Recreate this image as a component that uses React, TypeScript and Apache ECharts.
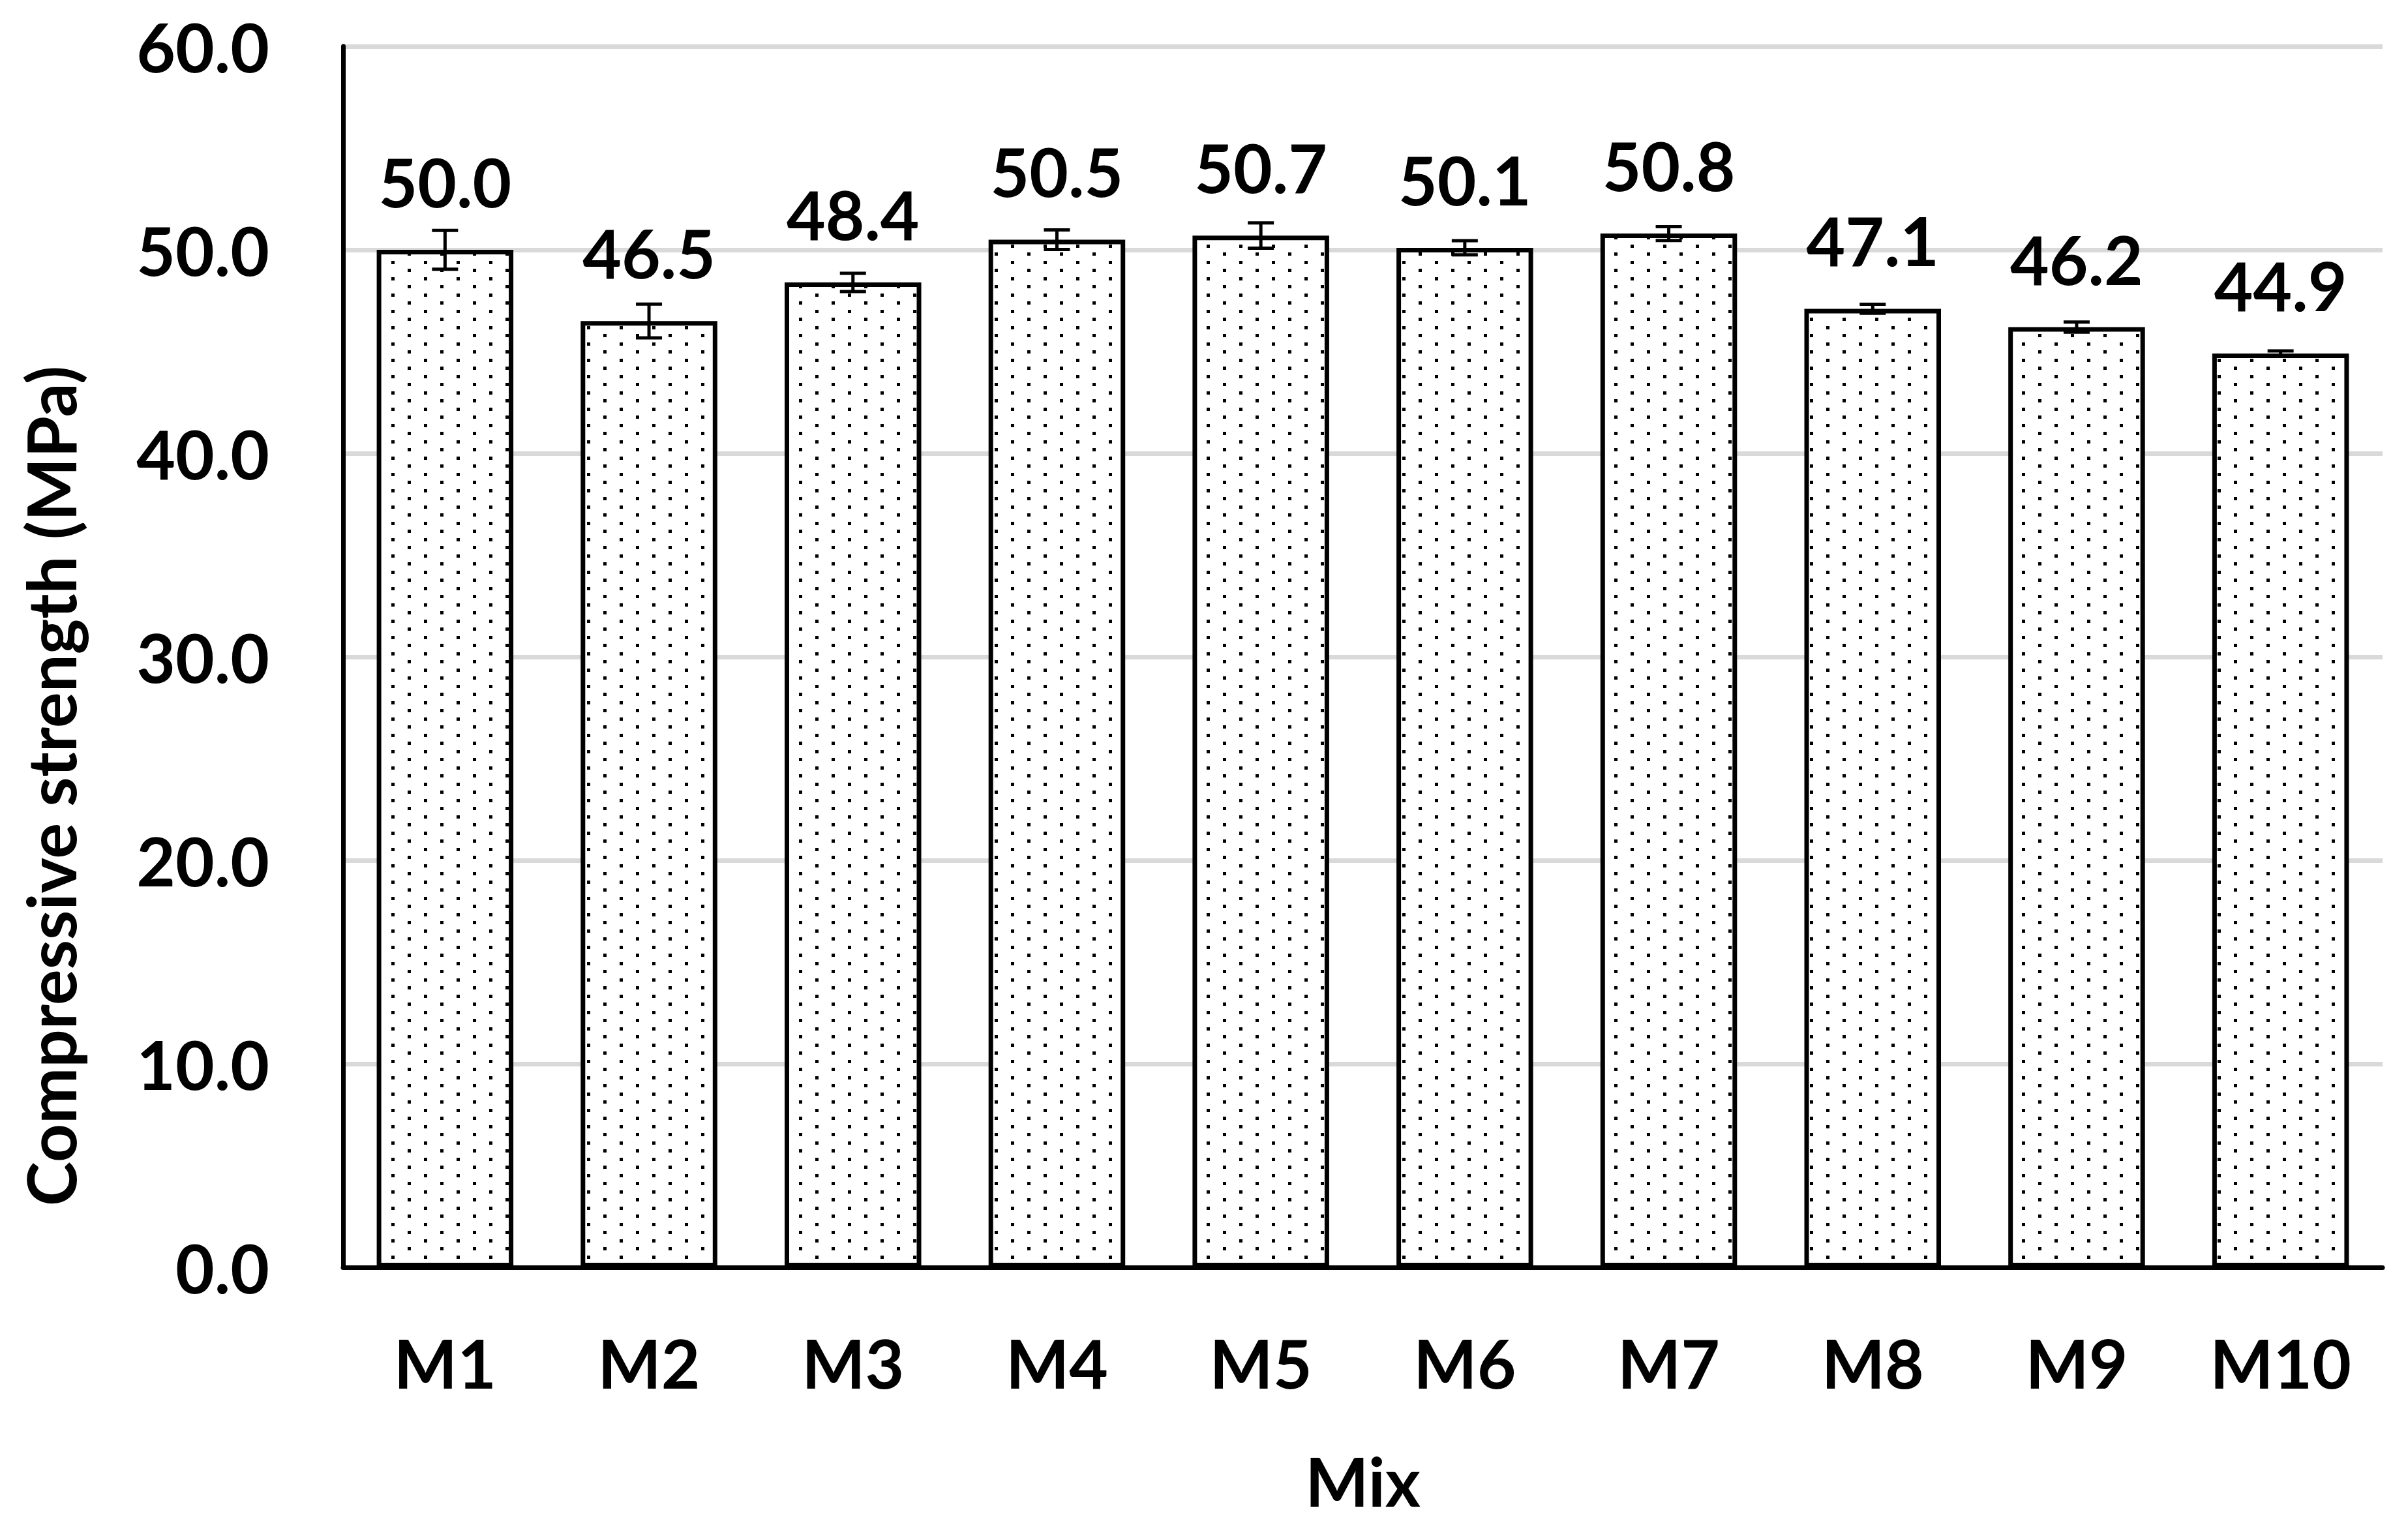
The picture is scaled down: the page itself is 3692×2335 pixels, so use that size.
import React, { useEffect, useRef } from 'react';
import * as echarts from 'echarts';

const mixes = ['M1', 'M2', 'M3', 'M4', 'M5', 'M6', 'M7', 'M8', 'M9', 'M10'];
const strength = [50.0, 46.5, 48.4, 50.5, 50.7, 50.1, 50.8, 47.1, 46.2, 44.9];
const strengthError = [0.95, 0.83, 0.45, 0.48, 0.62, 0.35, 0.34, 0.22, 0.25, 0.13];

const yMin = 0;
const yMax = 60;
const yStep = 10;

const FONT = 'Lato';
const FONT_SIZE = 103;

// dotted fill like the Excel "5%" pattern
const makeDots = () => {
	const c = document.createElement('canvas');
	c.width = 50;
	c.height = 25;
	const ctx = c.getContext('2d')!;
	ctx.fillStyle = '#ffffff';
	ctx.fillRect(0, 0, 50, 25);
	ctx.fillStyle = '#000000';
	ctx.fillRect(0, 0, 5, 5);
	ctx.fillRect(25, 12, 5, 5);
	return c;
};

const App: React.FC = () => {
	const chartRef = useRef<HTMLDivElement>(null);

	useEffect(() => {
		document.body.style.margin = '0';
		if (!chartRef.current) return;
		const chart = echarts.init(chartRef.current, undefined, { renderer: 'svg' });

		const errData = strength.map((v, i) => [i, v - strengthError[i], v + strengthError[i]]);

		const textStyle = {
			fontFamily: FONT,
			fontWeight: 'bold' as const,
			fontSize: FONT_SIZE,
			lineHeight: 120,
			color: '#000'
		};

		const option: echarts.EChartsOption = {
			animation: false,
			backgroundColor: '#ffffff',
			grid: { left: 526, top: 71, right: 39, bottom: 386, containLabel: false },
			xAxis: {
				type: 'category',
				data: mixes,
				name: 'Mix',
				nameLocation: 'middle',
				nameGap: 267,
				nameTextStyle: textStyle,
				axisLine: { lineStyle: { color: '#000', width: 7 } },
				axisTick: { show: false },
				axisLabel: { ...textStyle, margin: 86 },
				splitLine: { show: false }
			},
			yAxis: {
				type: 'value',
				min: yMin,
				max: yMax,
				interval: yStep,
				axisLine: { show: true, lineStyle: { color: '#000', width: 7 } },
				axisTick: { show: false },
				axisLabel: {
					...textStyle,
					margin: 113,
					formatter: (v: number) => v.toFixed(1)
				},
				splitLine: { lineStyle: { color: '#d9d9d9', width: 7 } }
			},
			graphic: [
				{
					type: 'text',
					x: 77,
					y: 1205,
					rotation: Math.PI / 2,
					style: {
						text: 'Compressive strength (MPa)',
						font: `bold ${FONT_SIZE}px ${FONT}`,
						fill: '#000',
						align: 'center',
						verticalAlign: 'middle'
					}
				}
			],
			series: [
				{
					name: 'Compressive strength',
					type: 'bar',
					data: strength,
					barCategoryGap: '33%',
					itemStyle: {
						color: { image: makeDots(), repeat: 'repeat', imageWidth: 50, imageHeight: 25 } as any,
						borderColor: '#000',
						borderWidth: 7
					},
					label: {
						show: true,
						position: 'top',
						distance: 45,
						...textStyle,
						formatter: (p: any) => Number(p.value).toFixed(1)
					}
				},
				{
					name: 'Error',
					type: 'custom',
					data: errData,
					z: 10,
					renderItem: (params: any, api: any) => {
						const idx = api.value(0);
						const lo = api.coord([idx, api.value(1)]);
						const hi = api.coord([idx, api.value(2)]);
						const cap = 20;
						const style = { stroke: '#000', lineWidth: 5 };
						return {
							type: 'group',
							children: [
								{ type: 'line', shape: { x1: lo[0], y1: lo[1], x2: hi[0], y2: hi[1] }, style },
								{ type: 'line', shape: { x1: hi[0] - cap, y1: hi[1], x2: hi[0] + cap, y2: hi[1] }, style },
								{ type: 'line', shape: { x1: lo[0] - cap, y1: lo[1], x2: lo[0] + cap, y2: lo[1] }, style }
							]
						};
					}
				}
			]
		};

		chart.setOption(option);

		return () => {
			chart.dispose();
		};
	}, []);

	return <div ref={chartRef} style={{ width: '3692px', height: '2335px' }} />;
};

export default App;
